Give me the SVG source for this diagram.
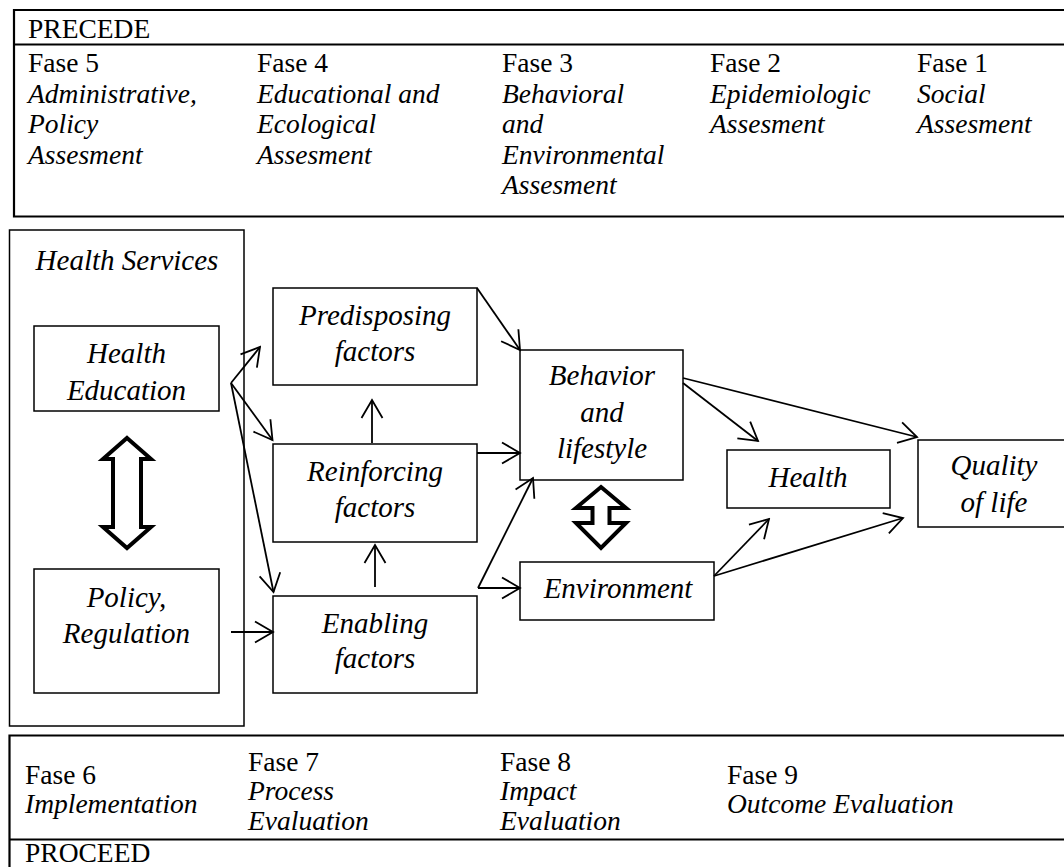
<svg xmlns="http://www.w3.org/2000/svg" width="1064" height="867" viewBox="0 0 1064 867">
<style>
.tb{font-family:"Liberation Serif","Times New Roman",serif;font-size:27.5px;fill:#000}
.it{font-style:italic}
.dg{font-family:"Liberation Serif","Times New Roman",serif;font-size:29px;font-style:italic;fill:#000;text-anchor:middle}
.box{fill:#fff;stroke:#000;stroke-width:1.5}
.frame{fill:none;stroke:#000;stroke-width:2.2}
.con{fill:none;stroke:#000;stroke-width:1.8;marker-end:url(#ah)}
.dbl{fill:#fff;stroke:#000;stroke-width:4;stroke-linejoin:miter}
</style>
<defs>
<marker id="ah" markerUnits="userSpaceOnUse" viewBox="-22 -13 24 26" refX="0" refY="0" markerWidth="24" markerHeight="26" orient="auto">
<path d="M-18,-10.5 L0,0 L-18,10.5" fill="none" stroke="#000" stroke-width="1.8"/>
</marker>
</defs>
<rect width="1064" height="867" fill="#fff"/>

<g id="precede">
<path class="frame" d="M1066,10 H14 V216.5 H1066 M14,44.5 H1066"/>
<text class="tb" x="28" y="38">PRECEDE</text>
<text class="tb" x="28" y="72">Fase 5</text>
<text class="tb it" x="28" y="102.5">Administrative,</text>
<text class="tb it" x="28" y="133">Policy</text>
<text class="tb it" x="28" y="163.5">Assesment</text>
<text class="tb" x="257" y="72">Fase 4</text>
<text class="tb it" x="257" y="102.5">Educational and</text>
<text class="tb it" x="257" y="133">Ecological</text>
<text class="tb it" x="257" y="163.5">Assesment</text>
<text class="tb" x="502" y="72">Fase 3</text>
<text class="tb it" x="502" y="102.5">Behavioral</text>
<text class="tb it" x="502" y="133">and</text>
<text class="tb it" x="502" y="163.5">Environmental</text>
<text class="tb it" x="502" y="194">Assesment</text>
<text class="tb" x="710" y="72">Fase 2</text>
<text class="tb it" x="710" y="102.5">Epidemiologic</text>
<text class="tb it" x="710" y="133">Assesment</text>
<text class="tb" x="917" y="72">Fase 1</text>
<text class="tb it" x="917" y="102.5">Social</text>
<text class="tb it" x="917" y="133">Assesment</text>
</g>

<g id="proceed">
<path class="frame" d="M1066,735.5 H9.5 V870 M9.5,839.5 H1066"/>
<text class="tb" x="25" y="784">Fase 6</text>
<text class="tb it" x="25" y="813">Implementation</text>
<text class="tb" x="248" y="771">Fase 7</text>
<text class="tb it" x="248" y="800">Process</text>
<text class="tb it" x="248" y="830">Evaluation</text>
<text class="tb" x="500" y="771">Fase 8</text>
<text class="tb it" x="500" y="800">Impact</text>
<text class="tb it" x="500" y="830">Evaluation</text>
<text class="tb" x="727" y="784">Fase 9</text>
<text class="tb it" x="727" y="813">Outcome Evaluation</text>
<text class="tb" x="25" y="862">PROCEED</text>
</g>

<g id="health-services">
<rect class="box" x="9.5" y="230" width="234.5" height="496"/>
<text class="dg" x="127" y="270">Health Services</text>
</g>
<g id="health-education">
<rect class="box" x="34" y="326" width="185" height="85"/>
<text class="dg" x="126.5" y="363">Health</text>
<text class="dg" x="126.5" y="400">Education</text>
</g>
<g id="policy-regulation">
<rect class="box" x="34" y="569" width="185" height="124"/>
<text class="dg" x="126.5" y="607">Policy,</text>
<text class="dg" x="126.5" y="643">Regulation</text>
</g>
<g id="predisposing">
<rect class="box" x="273" y="288" width="204" height="97"/>
<text class="dg" x="375" y="325">Predisposing</text>
<text class="dg" x="375" y="361">factors</text>
</g>
<g id="reinforcing">
<rect class="box" x="273" y="444" width="204" height="98"/>
<text class="dg" x="375" y="481">Reinforcing</text>
<text class="dg" x="375" y="517">factors</text>
</g>
<g id="enabling">
<rect class="box" x="273" y="596" width="204" height="97"/>
<text class="dg" x="375" y="632.5">Enabling</text>
<text class="dg" x="375" y="668">factors</text>
</g>
<g id="behavior">
<rect class="box" x="520" y="350" width="163" height="130"/>
<text class="dg" x="602" y="385">Behavior</text>
<text class="dg" x="602" y="422">and</text>
<text class="dg" x="602" y="458">lifestyle</text>
</g>
<g id="environment">
<rect class="box" x="520" y="562" width="194" height="58"/>
<text class="dg" x="618" y="598">Environment</text>
</g>
<g id="health">
<rect class="box" x="727" y="450" width="163" height="58"/>
<text class="dg" x="808" y="487">Health</text>
</g>
<g id="quality">
<rect class="box" x="918" y="440" width="150" height="87"/>
<text class="dg" x="994" y="475">Quality</text>
<text class="dg" x="994" y="512">of life</text>
</g>

<g id="connectors">
<polygon class="dbl" points="127,438 151,459 141,459 141,527 151,527 127,548 103,527 113,527 113,459 103,459"/>
<polygon class="dbl" points="601,487 626,508 609.5,508 609.5,523 626,523 601,548 576,523 592.5,523 592.5,508 576,508"/>
<line class="con" x1="231" y1="383" x2="260" y2="347"/>
<line class="con" x1="231" y1="383" x2="272.5" y2="440"/>
<line class="con" x1="231" y1="383" x2="273.5" y2="592"/>
<line class="con" x1="231" y1="632" x2="273" y2="632"/>
<line class="con" x1="372" y1="443" x2="372" y2="400"/>
<line class="con" x1="375" y1="587" x2="375" y2="545"/>
<line class="con" x1="477" y1="288" x2="520" y2="350"/>
<line class="con" x1="477" y1="453" x2="520" y2="453"/>
<line class="con" x1="478" y1="588" x2="533" y2="478"/>
<line class="con" x1="478" y1="588" x2="520" y2="588"/>
<line class="con" x1="683" y1="378" x2="917" y2="437"/>
<line class="con" x1="683" y1="383" x2="758" y2="441"/>
<line class="con" x1="714" y1="576" x2="769" y2="519"/>
<line class="con" x1="714" y1="576" x2="903" y2="518"/>
</g>
</svg>
